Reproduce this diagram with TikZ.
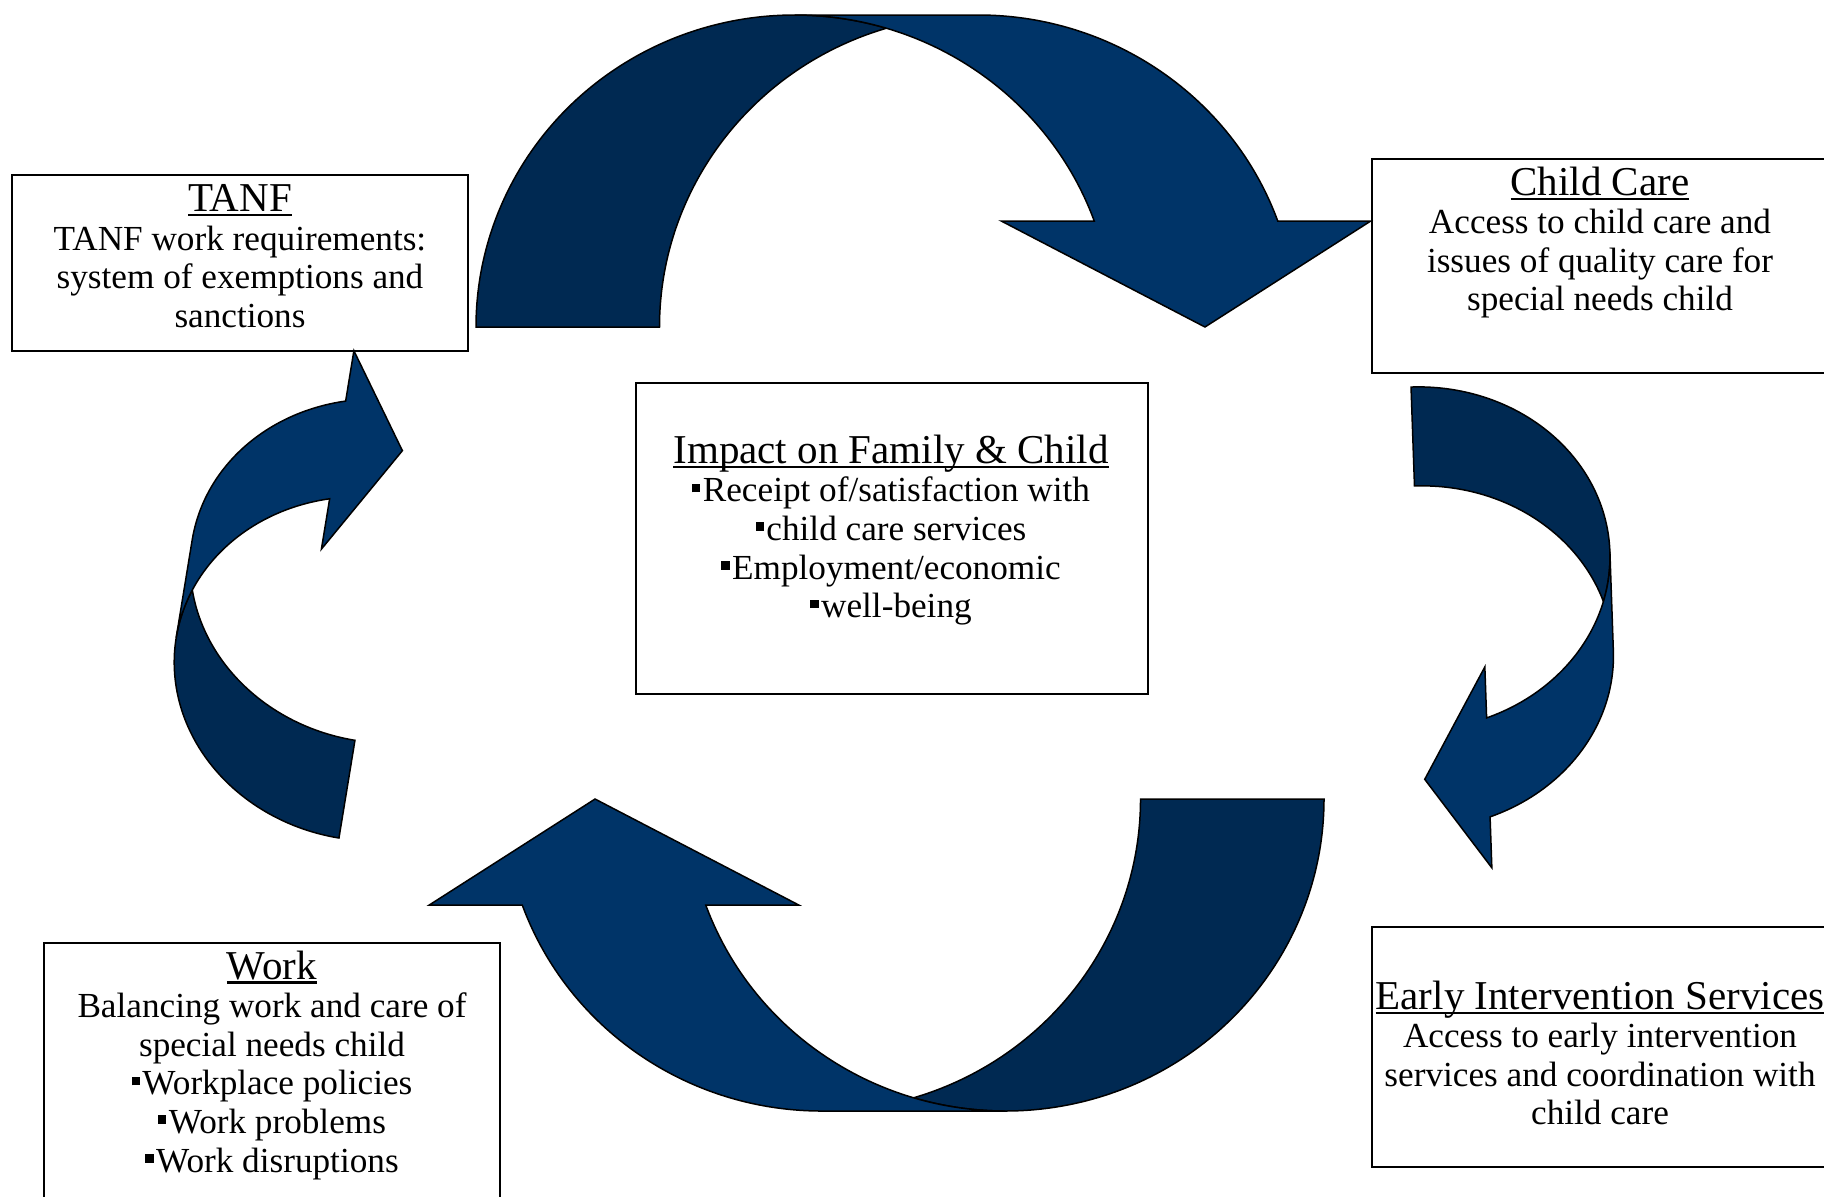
\documentclass[tikz,border=0pt]{standalone}
\usepackage{fontspec}
\setmainfont{Liberation Serif}
\usepackage{tikz}

\definecolor{backblue}{RGB}{0,41,82}
\definecolor{frontblue}{RGB}{0,52,104}

\newcommand{\bodyfont}{\fontsize{17.6}{19.3}\selectfont}
\newcommand{\headfont}{\fontsize{20.5}{19.3}\selectfont}
\newcommand{\sqb}{\rule[0.27em]{0.24em}{0.24em}\kern1.2pt}
\newcommand{\ulhead}[1]{\setbox0\hbox{#1}\rlap{\rule[-0.11em]{\wd0}{0.05em}}\box0}

\tikzstyle{box}=[draw=black,line width=1pt,rectangle,inner sep=0pt]
\tikzstyle{txt}=[align=center,font=\bodyfont,inner sep=0pt]
\tikzstyle{backband}=[fill=backblue,draw=black,line width=0.75pt]
\tikzstyle{frontband}=[fill=frontblue,draw=black,line width=0.75pt]

% #1 height, #2 ellipse x radius, #3 band width, #4 head length, #5 barb
\newcommand{\curvedarrow}[5]{%
  \pgfmathsetmacro{\arH}{#1}
  \pgfmathsetmacro{\arR}{#2}
  \pgfmathsetmacro{\arT}{#3}
  \pgfmathsetmacro{\arA}{#4}
  \pgfmathsetmacro{\arD}{#5}
  \pgfmathsetmacro{\arPsi}{acos(\arT/(2*\arR))}
  \pgfmathsetmacro{\arPhi}{asin(\arA/\arH)}
  \pgfmathsetmacro{\arCx}{\arR+\arT}
  \pgfmathsetmacro{\arIx}{\arR+\arT/2}
  \pgfmathsetmacro{\arIy}{\arH-\arH*sin(\arPsi)}
  \pgfmathsetmacro{\arXf}{\arR*(1+cos(\arPhi))}
  \pgfmathsetmacro{\arYa}{\arH-\arA}
  \filldraw[backband] (\arIx,\arIy)
    arc[start angle=\arPsi-180, end angle=-180, x radius=\arR, y radius=\arH]
    -- (0,\arH)
    arc[start angle=-180, end angle=-\arPsi, x radius=\arR, y radius=\arH]
    -- cycle;
  \filldraw[frontband] (\arXf,\arYa)
    arc[start angle=-\arPhi, end angle=-90, x radius=\arR, y radius=\arH]
    -- (\arCx,0)
    arc[start angle=-90, end angle=-\arPhi, x radius=\arR, y radius=\arH]
    -- ({\arXf+\arT+\arD},\arYa) -- ({2*\arR+\arT/2},\arH)
    -- ({\arXf-\arD},\arYa) -- cycle;
}

\begin{document}
\begin{tikzpicture}[x=0.5pt,y=-0.5pt]
\useasboundingbox (0,0) rectangle (1824,1196);

\begin{scope}[shift={(476,15)}]
  \curvedarrow{312}{318.6}{183.5}{106}{93}
\end{scope}
\begin{scope}[shift={(1324,1111)},rotate=180]
  \curvedarrow{312}{318.6}{183.5}{106}{93}
\end{scope}
\begin{scope}[shift={(1603.9,380.3)},rotate=-88]
  \curvedarrow{193}{171.5}{99}{64}{51}
\end{scope}
\begin{scope}[shift={(148.5,806.8)},rotate=80.7]
  \curvedarrow{193}{171.5}{99}{64}{51}
\end{scope}

\node[box,minimum width=228pt,minimum height=88pt] (tanfbox) at (240,263) {};
\node[box,minimum width=229pt,minimum height=107pt] (carebox) at (1601,266) {};
\node[box,minimum width=256pt,minimum height=155.5pt] (impactbox) at (892,538.5) {};
\node[box,minimum width=229pt,minimum height=120pt] (earlybox) at (1601,1047) {};
\node[box,minimum width=228pt,minimum height=128.5pt] (workbox) at (272,1071.5) {};

\node[txt] (tanftext) at (240,256) {{\headfont\ulhead{TANF}}\\
  TANF work requirements:\\ system of exemptions and\\ sanctions};
\node[txt] (caretext) at (1600,242.5) {{\headfont\ulhead{Child Care}}\\
  Access to child care and\\ issues of quality care for\\ special needs child};
\node[txt] (impacttext) at (891,530) {{\headfont\ulhead{Impact on Family \& Child}}\\
  \sqb Receipt of/satisfaction with\\ \sqb child care services\\
  \sqb Employment/economic\\ \sqb well-being};
\node[txt] (earlytext) at (1600,1053) {{\headfont\ulhead{Early Intervention Services}}\\
  Access to early intervention\\ services and coordination with\\ child care};
\node[txt] (worktext) at (272,1065) {{\headfont\ulhead{Work}}\\
  Balancing work and care of\\ special needs child\\ \sqb Workplace policies\\
  \sqb Work problems\\ \sqb Work disruptions};
\end{tikzpicture}
\end{document}
